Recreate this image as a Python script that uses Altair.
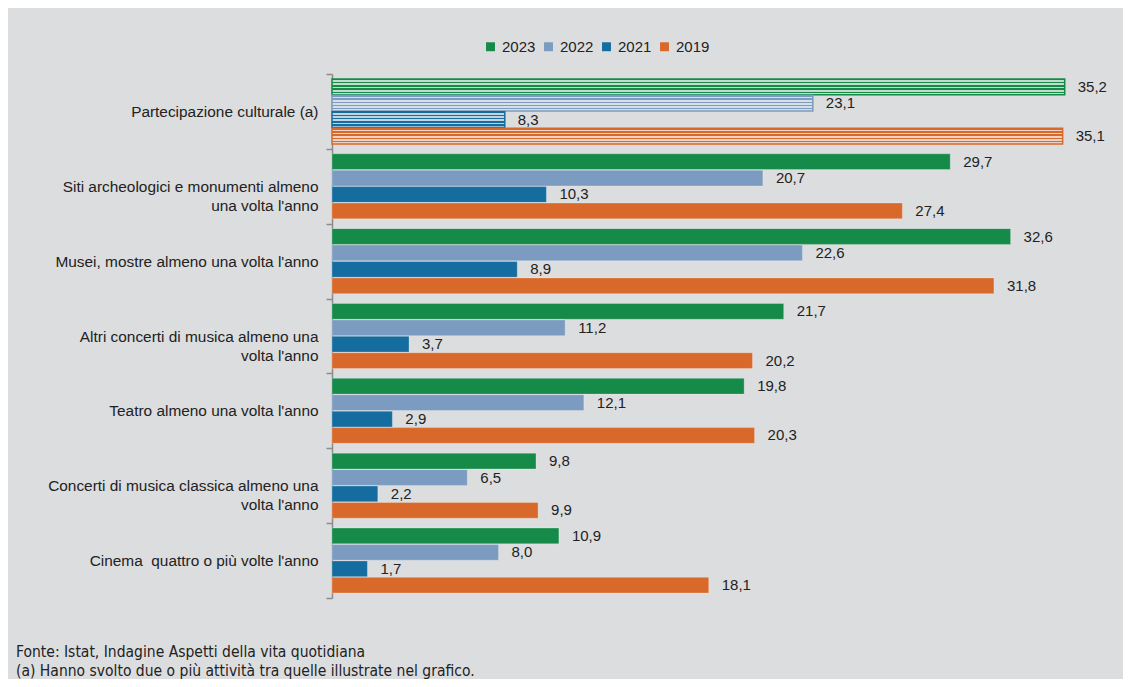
import altair as alt
import pandas as pd

NB = "\u00a0"
categories = [
    "Partecipazione culturale (a)",
    "Siti archeologici e monumenti almeno|una volta l'anno" + NB * 17,
    "Musei, mostre almeno una volta l'anno",
    "Altri concerti di musica almeno una|volta l'anno" + NB * 19,
    "Teatro almeno una volta l'anno",
    "Concerti di musica classica almeno una|volta l'anno" + NB * 23,
    "Cinema" + NB + " quattro o più volte l'anno",
]
years = ["2023", "2022", "2021", "2019"]
v2023 = [35.2, 29.7, 32.6, 21.7, 19.8, 9.8, 10.9]
v2022 = [23.1, 20.7, 22.6, 11.2, 12.1, 6.5, 8.0]
v2021 = [8.3, 10.3, 8.9, 3.7, 2.9, 2.2, 1.7]
v2019 = [35.1, 27.4, 31.8, 20.2, 20.3, 9.9, 18.1]
hatched_flags = [1, 0, 0, 0, 0, 0, 0]

colors = ["#168a48", "#7b9cc0", "#156c9e", "#d9692b"]
pale_colors = ["#c3dacd", "#d7dee5", "#c3d4de", "#ead3c7"]
footer_lines = [
    "Fonte: Istat, Indagine Aspetti della vita quotidiana",
    "(a) Hanno svolto due o più attività tra quelle illustrate nel grafico.",
]

rows = []
for ci, cat in enumerate(categories):
    for yi, (yr, vals) in enumerate(zip(years, [v2023, v2022, v2021, v2019])):
        v = vals[ci]
        rows.append({
            "cat": cat,
            "year": yr,
            "value": v,
            "label": f"{v:.1f}".replace(".", ","),
            "hatch": hatched_flags[ci],
        })
df = pd.DataFrame(rows)

FONT = "Liberation Sans"

x = alt.X("value:Q", scale=alt.Scale(domain=[0, 38], nice=False), axis=None)
y = alt.Y(
    "cat:N",
    sort=categories,
    scale=alt.Scale(domain=categories, paddingInner=0, paddingOuter=0),
    axis=alt.Axis(
        title=None,
        labelExpr="split(datum.label, '|')",
        labelFontSize=15.4,
        labelFont=FONT,
        labelColor="#222222",
        labelLineHeight=19,
        labelLimit=500,
        tickBand="extent",
        tickSize=6,
        labelPadding=8,
        domainColor="#8c8c8c",
        tickColor="#8c8c8c",
        domainWidth=1.5,
        tickWidth=1.5,
    ),
)
yoff = alt.YOffset(
    "year:N",
    sort=years,
    scale=alt.Scale(domain=years, paddingOuter=0.3, paddingInner=0.04),
)

base = alt.Chart(df)

solid = base.transform_filter("datum.hatch == 0").mark_bar(
    stroke="#ffffff", strokeOpacity=0.25, strokeWidth=1
).encode(
    x=x,
    y=y,
    yOffset=yoff,
    color=alt.Color(
        "year:N",
        sort=years,
        scale=alt.Scale(domain=years, range=colors),
        legend=alt.Legend(
            orient="none",
            legendX=151,
            legendY=-35,
            direction="horizontal",
            title=None,
            symbolType="square",
            symbolSize=80,
            symbolStrokeWidth=0,
            labelFontSize=15,
            labelFont=FONT,
            labelColor="#222222",
            columnPadding=5,
            labelOffset=4,
            padding=0,
        ),
    ),
)


def stripe_gradient(col, pale):
    # textured (patterned) fill: coloured rows over a pale ground
    stops = []
    n = 5
    for k in range(n):
        a = k / n
        b = a + 0.45 / n
        stops += [
            alt.GradientStop(offset=a, color=col),
            alt.GradientStop(offset=b, color=col),
            alt.GradientStop(offset=b, color=pale),
            alt.GradientStop(offset=(k + 1) / n, color=pale),
        ]
    return alt.Gradient(gradient="linear", x1=0, y1=0, x2=0, y2=1, stops=stops)


hatched_layers = []
for yr, col, pale in zip(years, colors, pale_colors):
    hatched_layers.append(
        base.transform_filter(f"datum.hatch == 1 && datum.year == '{yr}'")
        .mark_bar(fill=stripe_gradient(col, pale), stroke=col, strokeWidth=1.5)
        .encode(x=x, y=y, yOffset=yoff)
    )

labels = base.mark_text(
    align="left", baseline="middle", dx=13, fontSize=15, font=FONT, color="#222222"
).encode(x=x, y=y, yOffset=yoff, text="label:N")

footer = alt.Chart(pd.DataFrame({"t": ["\n".join(footer_lines)]})).mark_text(
    align="left",
    baseline="alphabetic",
    fontSize=15.5,
    font="DejaVu Sans Condensed, Liberation Sans Narrow, sans-serif",
    color="#222222",
    lineBreak="\n",
    lineHeight=18.5,
).encode(x=alt.value(-316), y=alt.value(583), text="t:N")

chart = (
    alt.layer(solid, *hatched_layers, labels, footer)
    .properties(
        width=791,
        height=524,
        background="#dcdddf",
        padding={"left": 324, "right": 0, "top": 66, "bottom": 81},
        autosize=alt.AutoSizeParams(type="none"),
    )
    .configure_view(stroke=None)
    .configure(font=FONT)
)

chart.save("out.html", embed_options={"renderer": "svg", "actions": False})
